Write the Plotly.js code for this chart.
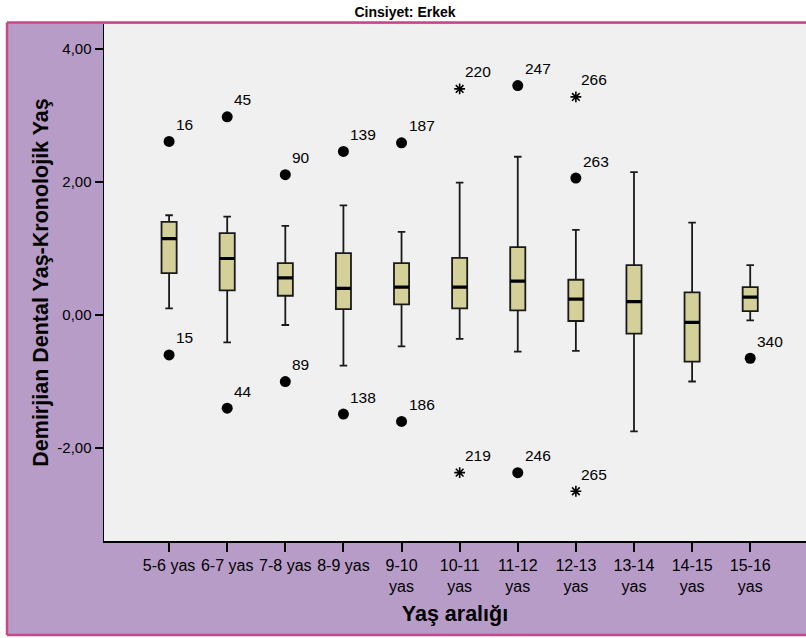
<!DOCTYPE html>
<html>
<head>
<meta charset="utf-8">
<script src="https://cdn.plot.ly/plotly-3.0.1.min.js"></script>
<style>html,body{margin:0;padding:0;background:#fff;overflow:hidden;}#chart{width:806px;height:638px;}</style>
</head>
<body>
<div id="chart"></div>
<script>
// ---- data ----
const categories = ["5-6 yas","6-7 yas","7-8 yas","8-9 yas","9-10<br>yas","10-11<br>yas","11-12<br>yas","12-13<br>yas","13-14<br>yas","14-15<br>yas","15-16<br>yas"];
const lowerWhisker = [0.10,-0.41,-0.15,-0.76,-0.47,-0.36,-0.55,-0.54,-1.75,-1.00,-0.08];
const q1Values     = [0.63, 0.37, 0.29, 0.09, 0.16, 0.10, 0.07,-0.09,-0.28,-0.70, 0.06];
const medianValues = [1.15, 0.85, 0.56, 0.40, 0.42, 0.42, 0.51, 0.24, 0.20,-0.11, 0.27];
const q3Values     = [1.40, 1.23, 0.78, 0.93, 0.78, 0.86, 1.02, 0.53, 0.75, 0.34, 0.42];
const upperWhisker = [1.50, 1.48, 1.34, 1.65, 1.25, 1.99, 2.38, 1.28, 2.15, 1.39, 0.75];

// outliers (circles) and extremes (stars)
const outlierGroup = [0,0,1,1,2,2,3,3,4,4,6,6,7,10];
const outlierValue = [2.61,-0.60,2.98,-1.40,2.11,-1.00,2.46,-1.49,2.59,-1.60,3.45,-2.37,2.06,-0.65];
const outlierLabel = ["16","15","45","44","90","89","139","138","187","186","247","246","263","340"];
const extremeGroup = [5,5,7,7];
const extremeValue = [3.40,-2.37,3.28,-2.65];
const extremeLabel = ["220","219","266","265"];

const yTickVals = [4,2,0,-2];
const yTickText = ["4,00","2,00","0,00","-2,00"];

// ---- build traces ----
const FONT = "Liberation Sans, Arial, sans-serif";
const boxTrace = {
  type: "box", x: categories,
  q1: q1Values, median: medianValues, q3: q3Values,
  lowerfence: lowerWhisker, upperfence: upperWhisker,
  boxpoints: false, width: 0.26, whiskerwidth: 0.5,
  fillcolor: "#d4d09a", line: {color: "#1a1a1a", width: 1.8},
  hoverinfo: "skip", showlegend: false
};
// thick median line overlay
const medianTrace = {
  type: "box", x: categories,
  q1: medianValues, median: medianValues, q3: medianValues,
  lowerfence: medianValues, upperfence: medianValues,
  boxpoints: false, width: 0.26, whiskerwidth: 0,
  fillcolor: "rgba(0,0,0,0)", line: {color: "#000", width: 3.2},
  hoverinfo: "skip", showlegend: false
};
const circleTrace = {
  type: "scatter", mode: "markers",
  x: outlierGroup.map(i => categories[i]), y: outlierValue,
  marker: {symbol: "circle", size: 11, color: "#000"},
  hoverinfo: "skip", showlegend: false
};
const starTrace = {
  type: "scatter", mode: "markers",
  x: extremeGroup.map(i => categories[i]), y: extremeValue,
  marker: {symbol: "asterisk-open", size: 9, color: "#000", line: {color: "#000", width: 1.6}},
  hoverinfo: "skip", showlegend: false
};

const annotations = [];
outlierGroup.forEach((g, i) => annotations.push({
  x: categories[g], y: outlierValue[i], text: outlierLabel[i], showarrow: false,
  xanchor: "left", yanchor: "middle", xshift: 5, yshift: 17,
  font: {family: FONT, size: 15.5, color: "#000"}
}));
extremeGroup.forEach((g, i) => annotations.push({
  x: categories[g], y: extremeValue[i], text: extremeLabel[i], showarrow: false,
  xanchor: "left", yanchor: "middle", xshift: 3, yshift: 17,
  font: {family: FONT, size: 15.5, color: "#000"}
}));

// frame geometry (paper fractions of the 702x517 plot domain)
const frameLeft = (7 - 104) / 702;
const frameBottom = (541 - 635) / 517;
const frameTop = 1 + 1.5 / 517;
const BORDER = {color: "#c4488a", width: 2.5};

const layout = {
  width: 806, height: 638,
  margin: {l: 104, r: 0, t: 24, b: 97, pad: 0},
  paper_bgcolor: "#ffffff", plot_bgcolor: "rgba(0,0,0,0)",
  boxmode: "overlay",
  title: {
    text: "<b>Cinsiyet: Erkek</b>",
    font: {family: "Liberation Sans Narrow, Liberation Sans, Arial, sans-serif", size: 14, color: "#000"},
    xref: "container", yref: "container", x: 405/806, y: 1 - 12/638,
    xanchor: "center", yanchor: "middle"
  },
  xaxis: {
    type: "category", range: [-1.12, 10.96],
    showline: true, linecolor: "#000", linewidth: 1.5, mirror: false,
    ticks: "outside", ticklen: 9, tickwidth: 2, tickcolor: "#000",
    showgrid: false, zeroline: false,
    tickfont: {family: FONT, size: 16, color: "#000"},
    title: {text: "<b>Yaş aralığı</b>", font: {family: FONT, size: 21.5, color: "#000"}, standoff: 12}
  },
  yaxis: {
    range: [-3.398, 4.376],
    showline: true, linecolor: "#000", linewidth: 1.5,
    ticks: "outside", ticklen: 8, tickwidth: 2, tickcolor: "#000",
    tickvals: yTickVals, ticktext: yTickText,
    showgrid: false, zeroline: false,
    tickfont: {family: FONT, size: 15, color: "#000"},
    title: {text: "<b>Demirjian Dental Yaş-Kronolojik Yaş</b>", font: {family: FONT, size: 21.5, color: "#000"}, standoff: 3}
  },
  shapes: [
    {type: "rect", xref: "paper", yref: "paper", layer: "below",
     x0: frameLeft, x1: 1.01, y0: frameBottom, y1: frameTop,
     fillcolor: "#b89cc8", line: {width: 0}},
    {type: "rect", xref: "paper", yref: "paper", layer: "below",
     x0: 0, x1: 1.01, y0: 0, y1: 1,
     fillcolor: "#f0f0f0", line: {width: 0}},
    {type: "line", xref: "paper", yref: "paper", layer: "below",
     x0: frameLeft, x1: 1.01, y0: frameTop, y1: frameTop, line: BORDER},
    {type: "line", xref: "paper", yref: "paper", layer: "below",
     x0: frameLeft, x1: 1.01, y0: frameBottom, y1: frameBottom, line: BORDER},
    {type: "line", xref: "paper", yref: "paper", layer: "below",
     x0: frameLeft, x1: frameLeft, y0: frameBottom, y1: frameTop, line: BORDER}
  ],
  annotations: annotations,
  showlegend: false
};

Plotly.newPlot("chart", [boxTrace, medianTrace, circleTrace, starTrace], layout, {staticPlot: true, displayModeBar: false});
</script>
</body>
</html>
